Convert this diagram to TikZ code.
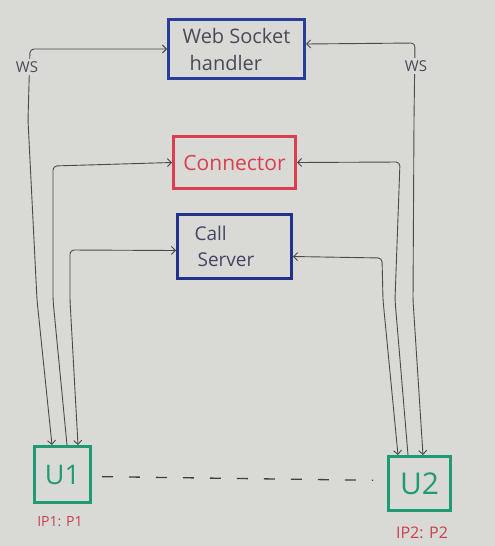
\documentclass[tikz,border=0pt]{standalone}
\usepackage{fontspec}
\setmainfont{Open Sans}
\usetikzlibrary{arrows.meta}
\definecolor{bg}{HTML}{D9D9D5}
\definecolor{boxblue}{HTML}{2A3C9C}
\definecolor{boxblue2}{HTML}{22318E}
\definecolor{boxred}{HTML}{DC3E4E}
\definecolor{boxgreen}{HTML}{1E9B74}
\definecolor{pen}{HTML}{4A4A4A}
\definecolor{txtgray}{HTML}{4A4A58}
\definecolor{iprd}{HTML}{C8414F}
\tikzset{
  box/.style={draw, line width=3pt, inner sep=0pt, align=left},
  conn/.style={draw=pen, line width=0.9pt, rounded corners=4pt},
  tip/.style={arrows={-Straight Barb[length=4pt,width=8pt]}},
  tips/.style={arrows={Straight Barb[length=4pt,width=8pt]-Straight Barb[length=4pt,width=8pt]}},
  wslab/.style={fill=bg, inner sep=2pt, text=txtgray, font=\fontsize{15}{17}\selectfont},
  iplab/.style={text=iprd, inner sep=0pt, font=\fontsize{14}{16}\selectfont},
  dashline/.style={draw={black!75}, line width=1.3pt, dash pattern=on 11pt off 16pt}
}
\begin{document}
\begin{tikzpicture}[x=1pt,y=-1pt]
\fill[bg] (0,0) rectangle (495,546);
\useasboundingbox (0,0) rectangle (495,546);

% boxes
\node[box, draw=boxblue, minimum width=136pt, minimum height=59pt, text=txtgray,
      font=\fontsize{20}{27}\selectfont] (wsh) at (236.5,49) {Web Socket\\\hspace*{7pt}handler};
\node[box, draw=boxred, minimum width=122pt, minimum height=52pt, text=boxred,
      font=\fontsize{21}{24}\selectfont] (cn) at (234.5,162.5) {Connector};
\node[box, draw=boxblue2, minimum width=114pt, minimum height=64pt, text=txtgray!80!boxblue2,
      font=\fontsize{19}{26}\selectfont] (cs) at (234.5,246.5) {Call\\\hspace*{3pt}Server\hspace*{20pt}};
\node[box, draw=boxgreen, minimum width=56pt, minimum height=56pt, text=boxgreen,
      font=\fontsize{27}{30}\selectfont] (u1) at (62.5,474.5) {U1};
\node[box, draw=boxgreen, minimum width=62pt, minimum height=54pt, text=boxgreen,
      font=\fontsize{30}{33}\selectfont] (u2) at (419.5,483.5) {U2};

% bend coordinates
\coordinate (wl1) at (37,300);
\coordinate (wl2) at (28,120);
\coordinate (wl3) at (30,49);
\coordinate (wr1) at (413,300);
\coordinate (wr2) at (414,120);
\coordinate (wr3) at (415,43);
\coordinate (cl1) at (53,300);
\coordinate (cl2) at (53,166);
\coordinate (cr1) at (395,300);
\coordinate (cr2) at (400,162);
\coordinate (sl1) at (70,300);
\coordinate (sl2) at (70,250);
\coordinate (sr1) at (383,300);
\coordinate (sr2) at (382,258);

% WebSocket lines
\draw[conn, tips] ([xshift=-10.5pt]u1.north) -- (wl1) -- (wl2) -- (wl3) -- (wsh.west);
\draw[conn, tips] ([xshift=3.5pt]u2.north) -- (wr1) -- (wr2) -- (wr3) -- ([yshift=5pt]wsh.east);
% Connector lines
\draw[conn, tip] ([xshift=4.5pt]u1.north) -- (cl1) -- (cl2) -- (cn.west);
\draw[conn, tip] ([xshift=-11.5pt]u2.north) -- (cr1) -- (cr2) -- (cn.east);
% Call server lines
\draw[conn, tips] ([xshift=15.5pt]u1.north) -- (sl1) -- (sl2) -- ([yshift=-4pt]cs.west);
\draw[conn, tips] ([xshift=-21.5pt]u2.north) -- (sr1) -- (sr2) -- ([yshift=-10pt]cs.east);

% WS labels
\node[wslab] (wsl) at (27,67) {WS};
\node[wslab] (wsr) at (416,66) {WS};

% dashed link
\draw[dashline, shorten <=10pt, shorten >=14pt] ([yshift=-2pt]u1.east) -- ([yshift=3pt]u2.west);

% IP labels
\node[iplab] (ip1) at (60,522) {IP1: P1};
\node[iplab, font=\fontsize{16}{18}\selectfont] (ip2) at (422,533) {IP2: P2};
\end{tikzpicture}
\end{document}
